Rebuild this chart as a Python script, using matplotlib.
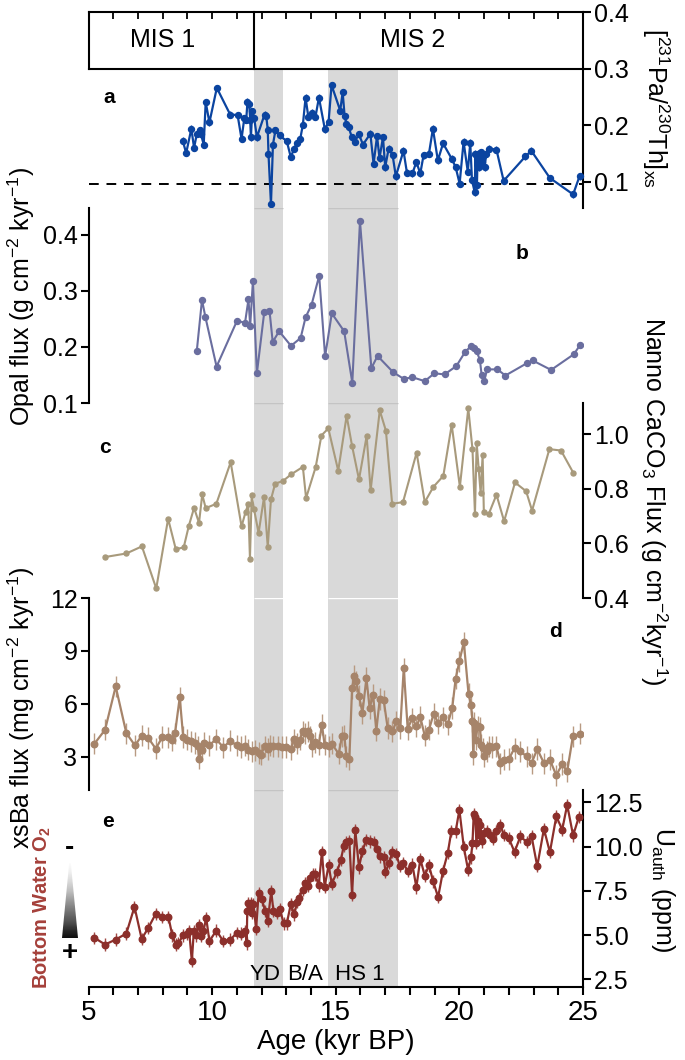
import matplotlib
matplotlib.use('Agg')
import matplotlib.pyplot as plt
from matplotlib.patches import Polygon
import numpy as np

plt.rcParams['font.family'] = ['Liberation Sans', 'DejaVu Sans']
plt.rcParams['mathtext.fontset'] = 'custom'
plt.rcParams['mathtext.rm'] = 'Liberation Sans'
plt.rcParams['mathtext.it'] = 'Liberation Sans:italic'
plt.rcParams['mathtext.bf'] = 'Liberation Sans:bold'

# ---- data (age in kyr BP) ----
# a: [231Pa/230Th]xs
a_age = [8.81, 8.95, 9.16, 9.27, 9.38, 9.49, 9.55, 9.66, 9.74, 9.89,
         10.19, 10.73, 11.03, 11.19, 11.30, 11.38, 11.43, 11.50, 11.54, 11.57,
         11.62, 11.70, 11.81, 12.12, 12.19, 12.25, 12.28, 12.38, 12.46, 12.56,
         12.73, 13.02, 13.18, 13.32, 13.45, 13.56, 13.67, 13.78, 13.89, 14.04,
         14.18, 14.32, 14.56, 14.71, 14.83, 15.18, 15.28, 15.36, 15.43, 15.52,
         15.65, 15.76, 15.94, 16.10, 16.40, 16.53, 16.67, 16.77, 16.91, 17.00,
         17.14, 17.30, 17.43, 17.74, 17.88, 18.10, 18.26, 18.42, 18.55, 18.77,
         18.93, 19.13, 19.34, 19.69, 19.85, 20.01, 20.17, 20.34, 20.44, 20.51,
         20.62, 20.65, 20.71, 20.74, 20.81, 20.86, 20.92, 20.98, 21.02, 21.09,
         21.19, 21.50, 21.79, 22.67, 22.91, 23.66, 24.60, 24.86]
a_val = [0.173, 0.151, 0.194, 0.160, 0.185, 0.191, 0.184, 0.166, 0.241, 0.205,
         0.266, 0.219, 0.218, 0.176, 0.212, 0.210, 0.242, 0.237, 0.209, 0.179,
         0.225, 0.213, 0.179, 0.219, 0.216, 0.192, 0.149, 0.061, 0.166, 0.191,
         0.182, 0.172, 0.144, 0.159, 0.168, 0.175, 0.201, 0.249, 0.215, 0.222,
         0.215, 0.249, 0.193, 0.206, 0.271, 0.226, 0.258, 0.216, 0.203, 0.197,
         0.179, 0.171, 0.184, 0.166, 0.185, 0.132, 0.181, 0.142, 0.179, 0.126,
         0.159, 0.147, 0.110, 0.155, 0.116, 0.115, 0.135, 0.115, 0.147, 0.150,
         0.194, 0.138, 0.168, 0.141, 0.126, 0.097, 0.171, 0.118, 0.169, 0.103,
         0.082, 0.150, 0.094, 0.150, 0.126, 0.153, 0.135, 0.147, 0.126, 0.150,
         0.159, 0.157, 0.102, 0.145, 0.155, 0.107, 0.078, 0.110]
a_ref = 0.096

# b: opal flux
b_age = [9.38, 9.59, 9.73, 10.18, 11.01, 11.33, 11.47, 11.54, 11.65, 11.81,
         12.11, 12.32, 12.45, 12.71, 13.19, 13.58, 13.78, 14.02, 14.33, 14.57,
         14.84, 15.34, 15.67, 15.98, 16.44, 16.69, 17.32, 17.75, 18.10, 18.60,
         18.99, 19.40, 19.88, 20.23, 20.48, 20.59, 20.70, 20.83, 20.90, 21.01,
         21.12, 21.54, 21.86, 22.73, 22.96, 23.71, 24.63, 24.89]
b_val = [0.193, 0.284, 0.253, 0.165, 0.247, 0.243, 0.285, 0.238, 0.318, 0.153,
         0.263, 0.265, 0.209, 0.228, 0.202, 0.216, 0.253, 0.275, 0.327, 0.183,
         0.260, 0.228, 0.136, 0.425, 0.162, 0.184, 0.155, 0.143, 0.146, 0.139,
         0.153, 0.151, 0.166, 0.191, 0.202, 0.199, 0.192, 0.177, 0.150, 0.140,
         0.160, 0.160, 0.149, 0.171, 0.176, 0.159, 0.187, 0.204]

# c: nanno CaCO3 flux
c_age = [5.67, 6.53, 7.16, 7.74, 8.22, 8.53, 8.85, 9.06, 9.27, 9.47,
         9.60, 9.74, 10.17, 10.75, 11.19, 11.35, 11.46, 11.53, 11.60, 11.69,
         11.88, 12.10, 12.25, 12.38, 12.55, 12.86, 13.20, 13.67, 13.80, 14.19,
         14.42, 14.70, 15.10, 15.44, 15.66, 15.94, 16.25, 16.41, 16.78, 17.03,
         17.28, 17.72, 18.27, 18.60, 18.95, 19.35, 19.69, 20.02, 20.36, 20.53,
         20.63, 20.70, 20.78, 20.86, 20.94, 20.99, 21.19, 21.50, 21.81, 22.25,
         22.70, 22.94, 23.64, 24.11, 24.61]
c_val = [0.550, 0.563, 0.589, 0.435, 0.690, 0.579, 0.585, 0.665, 0.730, 0.675,
         0.779, 0.729, 0.745, 0.897, 0.662, 0.714, 0.743, 0.544, 0.776, 0.727,
         0.638, 0.770, 0.587, 0.761, 0.819, 0.828, 0.853, 0.880, 0.766, 0.880,
         0.995, 1.021, 0.866, 1.067, 0.957, 0.834, 0.993, 0.794, 1.087, 1.012,
         0.745, 0.751, 0.932, 0.751, 0.807, 0.847, 1.034, 0.807, 1.094, 0.945,
         0.708, 0.967, 0.874, 0.784, 0.923, 0.714, 0.708, 0.778, 0.681, 0.823,
         0.791, 0.720, 0.945, 0.940, 0.858]

# d: xsBa flux
d_age = [5.24, 5.67, 6.10, 6.53, 6.88, 7.15, 7.42, 7.72, 7.99, 8.20,
         8.37, 8.50, 8.69, 8.83, 8.97, 9.15, 9.31, 9.42, 9.47, 9.58,
         9.69, 9.88, 10.16, 10.46, 10.73, 11.00, 11.17, 11.34, 11.47, 11.61,
         11.74, 11.88, 11.98, 12.12, 12.25, 12.36, 12.48, 12.66, 12.82, 12.98,
         13.17, 13.33, 13.44, 13.56, 13.66, 13.76, 13.87, 13.97, 14.03, 14.17,
         14.31, 14.44, 14.55, 14.71, 14.84, 15.12, 15.25, 15.35, 15.43, 15.55,
         15.66, 15.75, 15.83, 15.94, 16.08, 16.24, 16.37, 16.51, 16.64, 16.78,
         16.94, 17.10, 17.29, 17.45, 17.61, 17.75, 17.91, 18.09, 18.26, 18.42,
         18.60, 18.77, 18.96, 19.14, 19.34, 19.53, 19.71, 19.85, 20.00, 20.18,
         20.37, 20.47, 20.53, 20.56, 20.61, 20.66, 20.74, 20.83, 20.88, 20.96,
         21.01, 21.10, 21.19, 21.33, 21.50, 21.66, 21.82, 22.00, 22.23, 22.47,
         22.72, 22.92, 23.15, 23.42, 23.66, 23.92, 24.16, 24.36, 24.59, 24.86]
d_val = [3.75, 4.54, 6.99, 4.35, 3.65, 4.20, 4.07, 3.47, 4.13, 4.11,
         3.94, 4.35, 6.37, 4.13, 3.98, 3.88, 3.79, 3.60, 2.90, 3.37,
         3.79, 3.65, 4.01, 3.54, 3.92, 3.65, 3.56, 3.64, 3.41, 3.32,
         3.37, 3.22, 3.13, 3.60, 3.45, 3.64, 3.60, 3.60, 3.56, 3.56,
         3.45, 4.01, 3.75, 3.98, 4.45, 4.35, 4.45, 4.16, 3.60, 3.82,
         3.69, 4.82, 3.69, 3.60, 3.75, 3.18, 4.16, 4.20, 3.03, 2.88,
         6.90, 7.60, 7.28, 6.47, 5.49, 7.47, 5.77, 6.52, 4.48, 6.28,
         6.20, 4.64, 4.45, 5.01, 4.64, 8.03, 4.58, 5.20, 4.73, 5.26,
         4.20, 4.54, 5.45, 4.92, 5.24, 4.86, 5.77, 7.43, 8.41, 9.50,
         6.58, 5.96, 5.01, 3.16, 4.92, 3.98, 4.73, 4.69, 3.69, 3.50,
         3.03, 3.32, 3.60, 3.56, 3.60, 2.65, 2.84, 2.88, 3.50, 3.32,
         3.03, 2.65, 3.45, 2.65, 2.84, 1.96, 2.60, 2.18, 4.16, 4.31]
d_err = 0.6

# e: authigenic U
e_age = [5.24, 5.67, 6.10, 6.53, 6.86, 7.15, 7.42, 7.72, 7.99, 8.23,
         8.39, 8.53, 8.64, 8.83, 8.97, 9.07, 9.18, 9.26, 9.35, 9.47,
         9.55, 9.65, 9.76, 9.89, 10.17, 10.45, 10.74, 11.00, 11.17, 11.34,
         11.40, 11.42, 11.47, 11.52, 11.56, 11.61, 11.67, 11.78, 11.88, 12.01,
         12.15, 12.25, 12.39, 12.48, 12.62, 12.75, 12.89, 13.02, 13.18, 13.33,
         13.43, 13.52, 13.66, 13.76, 13.87, 13.97, 14.09, 14.17, 14.31, 14.44,
         14.55, 14.71, 14.84, 15.05, 15.21, 15.32, 15.43, 15.55, 15.66, 15.79,
         15.94, 16.08, 16.24, 16.40, 16.56, 16.67, 16.80, 16.94, 17.01, 17.16,
         17.29, 17.45, 17.59, 17.72, 17.91, 18.10, 18.26, 18.42, 18.60, 18.77,
         18.94, 19.14, 19.34, 19.53, 19.68, 19.85, 20.00, 20.18, 20.35, 20.47,
         20.53, 20.58, 20.64, 20.69, 20.75, 20.80, 20.85, 20.91, 20.99, 21.10,
         21.23, 21.37, 21.50, 21.66, 21.80, 22.00, 22.23, 22.47, 22.72, 22.92,
         23.15, 23.42, 23.66, 23.92, 24.16, 24.36, 24.60, 24.83]
e_val = [4.85, 4.47, 4.75, 5.09, 6.60, 4.79, 5.41, 6.21, 6.04, 6.04,
         4.98, 4.47, 4.57, 4.98, 5.07, 5.23, 3.53, 5.23, 4.98, 5.58,
         4.94, 5.23, 5.98, 4.66, 5.26, 4.66, 4.75, 5.13, 5.09, 5.23,
         4.53, 6.37, 6.83, 6.45, 6.83, 6.26, 6.74, 5.36, 7.36, 7.02,
         6.36, 5.79, 7.49, 6.36, 6.26, 6.45, 5.66, 5.66, 6.74, 6.17,
         6.87, 7.11, 7.55, 7.96, 7.77, 8.24, 8.43, 8.43, 7.81, 9.70,
         7.73, 8.94, 7.90, 8.57, 9.26, 10.02, 10.24, 10.30, 7.29, 10.92,
         8.83, 9.77, 10.39, 10.30, 10.24, 9.88, 9.45, 9.39, 8.57, 9.07,
         9.68, 9.58, 8.89, 9.07, 8.64, 8.98, 7.70, 9.30, 8.36, 8.94,
         8.04, 7.14, 8.64, 9.64, 10.90, 10.86, 12.08, 9.96, 8.70, 9.39,
         10.20, 11.84, 11.65, 10.20, 11.46, 10.67, 11.24, 10.30, 10.77, 10.90,
         10.67, 10.45, 10.86, 11.20, 10.67, 10.48, 9.70, 10.58, 10.26, 10.58,
         8.89, 11.01, 9.68, 11.71, 10.96, 12.36, 10.63, 11.67]
e_err = 0.35

bands = [(11.7, 12.85), (14.7, 17.5)]
mis_edge = 11.7

# ---- layout (pixels of a 685x1060 canvas) ----
W, H = 685, 1060
fig = plt.figure(figsize=(W / 100, H / 100), dpi=100)
X0, X1 = 88.5, 583
band_col = '#d9d9d9'
TS = 18   # tick label size
LS = 18   # axis title size


def panel(top, bot, ylim):
    ax = fig.add_axes([X0 / W, 1 - bot / H, (X1 - X0) / W, (bot - top) / H])
    ax.set_xlim(5, 25)
    ax.set_ylim(*ylim)
    ax.patch.set_visible(False)
    for s in ax.spines.values():
        s.set_visible(False)
        s.set_linewidth(1.5)
    ax.set_xticks([])
    return ax


def side(ax, where, ticks):
    ax.spines[where].set_visible(True)
    if where == 'right':
        ax.yaxis.tick_right()
    else:
        ax.yaxis.tick_left()
    ax.set_yticks(ticks)
    ax.tick_params(axis='y', direction='out', length=6, width=1.5,
                   labelsize=TS, pad=2)


def shade(ax, top=None, edge=None, edge_col='#c4c4c4'):
    for b0, b1 in bands:
        if top is None:
            ax.axvspan(b0, b1, color=band_col, lw=0, zorder=0)
        else:
            ax.fill_between([b0, b1], ax.get_ylim()[0], top, color=band_col,
                            lw=0, zorder=0)
        if edge is not None:
            ax.hlines(edge, b0, b1, color=edge_col, lw=1, zorder=0.5)


# a
ax_a = panel(12, 208, (0.054, 0.4))
shade(ax_a, top=0.3)
side(ax_a, 'right', [0.1, 0.2, 0.3, 0.4])
ax_a.spines['top'].set_visible(True)
ax_a.spines['left'].set_visible(True)
ax_a.spines['left'].set_bounds(0.3, 0.4)
ax_a.xaxis.tick_top()
ax_a.set_xticks(np.arange(5, 26, 1))
ax_a.tick_params(axis='x', direction='in', length=5, width=1.3,
                 labeltop=False, labelbottom=False)
ax_a.plot([5, 25], [0.3, 0.3], color='k', lw=1.5, clip_on=False)
ax_a.plot([mis_edge, mis_edge], [0.3, 0.4], color='k', lw=1.5, clip_on=False)
ax_a.text(8.0, 0.35, 'MIS 1', ha='center', va='center', fontsize=18)
ax_a.text(18.1, 0.35, 'MIS 2', ha='center', va='center', fontsize=18)
ax_a.axhline(a_ref, color='k', lw=1.4, ls=(0, (5, 4)), zorder=1)
ax_a.errorbar(a_age, a_val, yerr=0.006, fmt='-o', color='#0b44a0', ms=4.3,
              lw=1.6, elinewidth=1, capsize=0, zorder=3, clip_on=False)
ax_a.text(5.83, 0.249, 'a', fontsize=15, fontweight='bold', ha='center', va='center')

# b
ax_b = panel(208, 403, (0.1, 0.448))
shade(ax_b, edge=0.448)
side(ax_b, 'left', [0.1, 0.2, 0.3, 0.4])
ax_b.plot(b_age, b_val, '-o', color='#6a6e9f', ms=4.3, lw=1.5, zorder=3)
ax_b.text(22.55, 0.366, 'b', fontsize=15, fontweight='bold', ha='center', va='center')

# c
ax_c = panel(403, 598, (0.4, 1.114))
shade(ax_c, edge=1.114)
side(ax_c, 'right', [0.4, 0.6, 0.8, 1.0])
ax_c.plot(c_age, c_val, '-o', color='#a89a7c', ms=3.6, lw=1.5, zorder=3)
ax_c.text(5.67, 0.952, 'c', fontsize=15, fontweight='bold', ha='center', va='center')

# d
ax_d = panel(598, 790, (1.13, 12))
shade(ax_d, edge=12, edge_col='white')
side(ax_d, 'left', [3, 6, 9, 12])
ax_d.errorbar(d_age, d_val, yerr=d_err, fmt='-o', color='#a6846a', ms=4.7,
              lw=1.6, elinewidth=1, ecolor='#b89a82', capsize=0, zorder=3)
ax_d.text(23.9, 10.08, 'd', fontsize=15, fontweight='bold', ha='center', va='center')

# e
ax_e = panel(790, 987, (2.07, 13.2))
shade(ax_e, edge=13.2)
side(ax_e, 'right', [2.5, 5.0, 7.5, 10.0, 12.5])
ax_e.yaxis.set_major_formatter(matplotlib.ticker.FormatStrFormatter('%.1f'))
ax_e.spines['bottom'].set_visible(True)
ax_e.set_xticks([5, 10, 15, 20, 25])
ax_e.set_xticks(np.arange(5, 26, 1), minor=True)
ax_e.tick_params(axis='x', which='both', direction='out', length=6, width=1.5,
                 labelsize=20, pad=3)
ax_e.errorbar(e_age, e_val, yerr=e_err, fmt='-o', color='#8c2f2b', ms=4.7,
              lw=1.6, elinewidth=1, ecolor='#a04a45', capsize=0, zorder=3)
ax_e.text(5.8, 11.4, 'e', fontsize=15, fontweight='bold', ha='center', va='center')
for lab, xx in [('YD', 12.15), ('B/A', 13.75), ('HS 1', 15.96)]:
    ax_e.text(xx, 2.8, lab, fontsize=16, ha='center', va='center')

fig.text((X0 + X1) / 2 / W, 1 - 1042 / H, 'Age (kyr BP)', ha='center',
         va='center', fontsize=20)

# axis titles
fig.text(656 / W, 1 - 108 / H, r'[$^{231}$Pa/$^{230}$Th]$_{\mathrm{xs}}$',
         rotation=270, ha='center', va='center', fontsize=LS)
fig.text(21 / W, 1 - 296 / H, r'Opal flux (g cm$^{-2}$ kyr$^{-1}$)',
         rotation=90, ha='center', va='center', fontsize=LS)
fig.text(654 / W, 1 - 501 / H, r'Nanno CaCO$_3$ Flux (g cm$^{-2}$kyr$^{-1}$)',
         rotation=270, ha='center', va='center', fontsize=LS)
fig.text(21 / W, 1 - 708 / H, r'xsBa flux (mg cm$^{-2}$ kyr$^{-1}$)',
         rotation=90, ha='center', va='center', fontsize=LS)
fig.text(663 / W, 1 - 890 / H, r'U$_{\mathrm{auth}}$ (ppm)',
         rotation=270, ha='center', va='center', fontsize=LS)

# bottom water O2 indicator
fig.text(42 / W, 1 - 908 / H, r'Bottom Water O$_\mathbf{2}$', rotation=90,
         ha='center', va='center', fontsize=14.5, fontweight='bold', color='#a5403a')
fig.text(70 / W, 1 - 848 / H, '-', ha='center', va='center', fontsize=20,
         fontweight='bold')
fig.text(70 / W, 1 - 953 / H, '+', ha='center', va='center', fontsize=20,
         fontweight='bold')
tax = fig.add_axes([62 / W, 1 - 938 / H, 16 / W, 75 / H])
tax.axis('off')
grad = np.linspace(0.02, 1.0, 256).reshape(-1, 1)
im = tax.imshow(grad, cmap='Greys', vmin=0, vmax=1.05, extent=[0, 1, 0, 1],
                origin='upper', aspect='auto')
tri = Polygon([(0, 0), (1, 0), (0.55, 1), (0.45, 1)], closed=True,
              transform=tax.transData, fc='none', ec='none')
tax.add_patch(tri)
im.set_clip_path(tri)
tax.set_xlim(0, 1)
tax.set_ylim(0, 1)

fig.savefig('out.png', dpi=100)
